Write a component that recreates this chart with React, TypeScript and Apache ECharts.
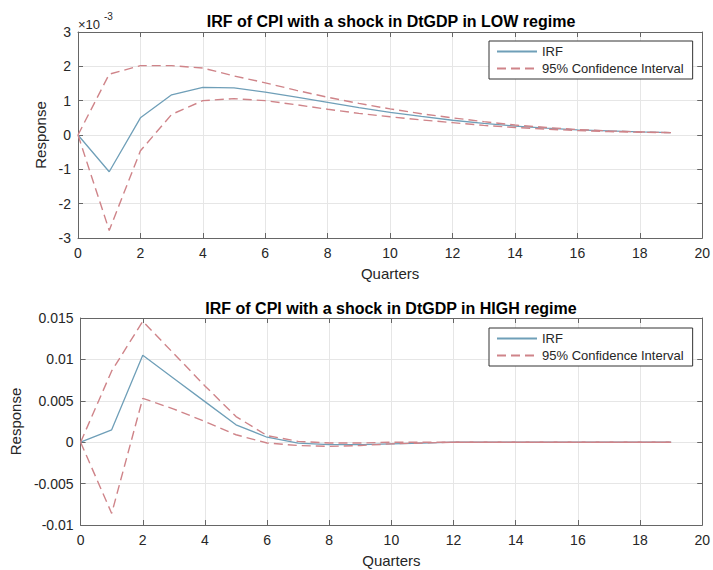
import React, { useEffect, useRef } from "react";
import * as echarts from "echarts";

// Quarters (x)
const quarters = [0, 1, 2, 3, 4, 5, 6, 7, 8, 9, 10, 11, 12, 13, 14, 15, 16, 17, 18, 19];

// LOW regime (values in units of 1e-3)
const lowIrf = [0, -1.07, 0.5, 1.17, 1.39, 1.37, 1.25, 1.1, 0.95, 0.8, 0.66, 0.54, 0.43, 0.34, 0.26, 0.2, 0.15, 0.12, 0.09, 0.07];
const lowUpper = [0, 1.77, 2.02, 2.02, 1.95, 1.72, 1.52, 1.3, 1.1, 0.92, 0.76, 0.62, 0.5, 0.39, 0.29, 0.22, 0.16, 0.12, 0.09, 0.07];
const lowLower = [0, -2.78, -0.46, 0.6, 1.0, 1.06, 1.0, 0.88, 0.75, 0.63, 0.53, 0.44, 0.36, 0.28, 0.22, 0.17, 0.13, 0.1, 0.08, 0.07];

// HIGH regime
const highIrf = [0, 0.0015, 0.0105, 0.0077, 0.0049, 0.0021, 0.0006, -0.0001, -0.0003, -0.0003, -0.0002, -0.0001, 0, 0, 0, 0, 0, 0, 0, 0];
const highUpper = [0, 0.0086, 0.0146, 0.0107, 0.0068, 0.0031, 0.0008, 0.0001, -0.0001, -0.0001, 0, 0, 0, 0, 0, 0, 0, 0, 0, 0];
const highLower = [0, -0.0086, 0.0053, 0.004, 0.0025, 0.0009, -0.0001, -0.0004, -0.0005, -0.0004, -0.0002, -0.0001, 0, 0, 0, 0, 0, 0, 0, 0];

const titles = [
  "IRF of CPI with a shock in DtGDP in LOW regime",
  "IRF of CPI with a shock in DtGDP in HIGH regime",
];
const xName = "Quarters";
const yName = "Response";
const irfName = "IRF";
const ciName = "95% Confidence Interval";

const FONT = "'Liberation Sans', Arial, Helvetica, sans-serif";
const AXIS = "#666666";
const TEXT = "#262626";
const GRIDC = "#e6e6e6";
const BLUE = "#6f9fb8";
const RED = "#cf8489";

const pair = (ys: number[]) => quarters.map((q, i) => [q, ys[i]]);

export default function App() {
  const ref = useRef<HTMLDivElement>(null);
  useEffect(() => {
    if (!ref.current) return;
    const chart = echarts.init(ref.current, null, { renderer: "svg" });
    const grids = [
      { left: 78, top: 32, width: 626, height: 206 },
      { left: 78, top: 318, width: 626, height: 207 },
    ];
    const xAxes: any[] = [];
    const yAxes: any[] = [];
    const yCfg = [
      { min: -3, max: 3, interval: 1, fmt: (v: number) => String(Math.round(v)), gap: 20 },
      { min: -0.01, max: 0.015, interval: 0.005, fmt: (v: number) => String(+v.toFixed(3)), gap: 50 },
    ];
    grids.forEach((_, g) => {
      xAxes.push({
        gridIndex: g,
        type: "value",
        min: 0,
        max: 20,
        interval: 2,
        position: "bottom",
        axisLine: { show: true, onZero: false, lineStyle: { color: AXIS, width: 1 } },
        axisTick: { show: true, inside: true, length: 5, lineStyle: { color: AXIS } },
        axisLabel: { color: TEXT, fontSize: 14, margin: 8, fontFamily: FONT },
        splitLine: { show: true, lineStyle: { color: GRIDC, width: 1 } },
        name: xName,
        nameLocation: "middle",
        nameGap: 28,
        nameTextStyle: { color: TEXT, fontSize: 15, fontFamily: FONT },
      });
      xAxes.push({
        gridIndex: g,
        type: "value",
        min: 0,
        max: 20,
        interval: 2,
        position: "top",
        axisLine: { show: true, onZero: false, lineStyle: { color: AXIS, width: 1 } },
        axisTick: { show: true, inside: true, length: 5, lineStyle: { color: AXIS } },
        axisLabel: { show: false },
        splitLine: { show: false },
      });
      const c = yCfg[g];
      yAxes.push({
        gridIndex: g,
        type: "value",
        min: c.min,
        max: c.max,
        interval: c.interval,
        position: "left",
        axisLine: { show: true, onZero: false, lineStyle: { color: AXIS, width: 1 } },
        axisTick: { show: true, inside: true, length: 5, lineStyle: { color: AXIS } },
        axisLabel: { color: TEXT, fontSize: 14, margin: 7, fontFamily: FONT, formatter: c.fmt },
        splitLine: { show: true, lineStyle: { color: GRIDC, width: 1 } },
        name: yName,
        nameLocation: "middle",
        nameGap: c.gap,
        nameTextStyle: { color: TEXT, fontSize: 15, fontFamily: FONT },
      });
      yAxes.push({
        gridIndex: g,
        type: "value",
        min: c.min,
        max: c.max,
        interval: c.interval,
        position: "right",
        axisLine: { show: true, onZero: false, lineStyle: { color: AXIS, width: 1 } },
        axisTick: { show: true, inside: true, length: 5, lineStyle: { color: AXIS } },
        axisLabel: { show: false },
        splitLine: { show: false },
      });
    });

    const mk = (name: string, data: number[], g: number, dashed: boolean) => ({
      type: "line",
      name,
      xAxisIndex: g * 2,
      yAxisIndex: g * 2,
      data: pair(data),
      symbol: "none",
      showSymbol: false,
      lineStyle: dashed
        ? { color: RED, width: 1.4, type: [9, 5] }
        : { color: BLUE, width: 1.3, type: "solid" },
      itemStyle: { color: dashed ? RED : BLUE },
      z: dashed ? 3 : 2,
    });

    const series = [
      mk(irfName, lowIrf, 0, false),
      mk(ciName, lowUpper, 0, true),
      mk(ciName, lowLower, 0, true),
      mk(irfName, highIrf, 1, false),
      mk(ciName, highUpper, 1, true),
      mk(ciName, highLower, 1, true),
    ];

    const legendTops = [41, 328];
    const legends = legendTops.map((t) => ({
      orient: "vertical",
      left: 489,
      top: t,
      padding: [4, 9, 4, 7],
      itemGap: 4,
      itemWidth: 40,
      itemHeight: 14,
      borderColor: "#333",
      borderWidth: 1,
      borderRadius: 0,
      backgroundColor: "#fff",
      selectedMode: false,
      itemStyle: { opacity: 0 },
      data: [irfName, ciName],
      textStyle: { color: TEXT, fontSize: 13, fontFamily: FONT, padding: [0, 0, 0, 0] },
      z: 10,
    }));

    const titleStyle = {
      textAlign: "center",
      textVerticalAlign: "middle",
      fontSize: 16,
      fontWeight: "bold",
      fontFamily: FONT,
      fill: "#000",
    };

    chart.setOption({
      animation: false,
      backgroundColor: "#fff",
      grid: grids,
      xAxis: xAxes,
      yAxis: yAxes,
      series,
      legend: legends,
      graphic: [
        { type: "text", x: 391, y: 21, style: { ...titleStyle, text: titles[0] } },
        { type: "text", x: 391, y: 308, style: { ...titleStyle, text: titles[1] } },
        {
          type: "text",
          x: 78,
          y: 24,
          style: {
            text: "×10",
            textAlign: "left",
            textVerticalAlign: "middle",
            fontSize: 13,
            fontFamily: FONT,
            fill: TEXT,
          },
        },
        {
          type: "text",
          x: 104,
          y: 16,
          style: {
            text: "-3",
            textAlign: "left",
            textVerticalAlign: "middle",
            fontSize: 10,
            fontFamily: FONT,
            fill: TEXT,
          },
        },
      ],
    });
    return () => chart.dispose();
  }, []);
  return (
    <div
      ref={ref}
      style={{ position: "absolute", left: 0, top: 0, width: 713, height: 570, background: "#fff" }}
    />
  );
}
